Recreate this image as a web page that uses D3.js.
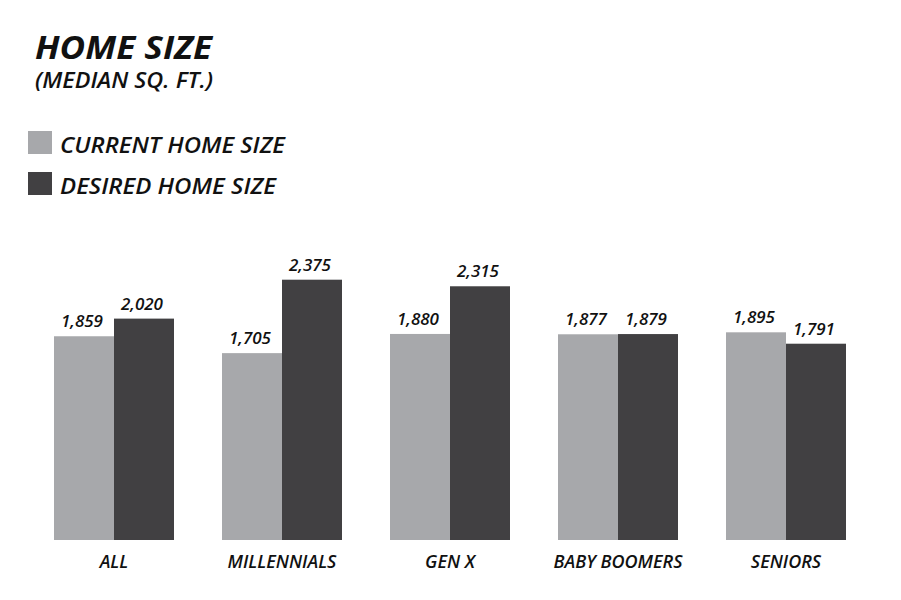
<!DOCTYPE html>
<html>
<head>
<meta charset="utf-8">
<script src="https://cdn.jsdelivr.net/npm/d3@7"></script>
<style>
  html, body { margin: 0; padding: 0; background: #fff; }
  svg text { font-family: "Open Sans", sans-serif; font-style: italic; fill: #111; }
</style>
</head>
<body>
<svg id="chart" width="901" height="600"></svg>
<script>
"use strict";

var categories = ["ALL", "MILLENNIALS", "GEN X", "BABY BOOMERS", "SENIORS"],
    seriesNames = ["CURRENT HOME SIZE", "DESIRED HOME SIZE"],
    currentSize = [1859, 1705, 1880, 1877, 1895],
    desiredSize = [2020, 2375, 2315, 1879, 1791],
    colors = ["#a7a8ab", "#414042"];

var svg = d3.select("#chart"),
    fmt = d3.format(",");

// title block
svg.append("text")
    .attr("x", 35).attr("y", 59)
    .style("font-size", "32px").style("font-weight", 700)
    .attr("textLength", 177).attr("lengthAdjust", "spacingAndGlyphs")
    .text("HOME SIZE");
svg.append("text")
    .attr("x", 35).attr("y", 88)
    .style("font-size", "21px").style("font-weight", 600)
    .attr("textLength", 178).attr("lengthAdjust", "spacingAndGlyphs")
    .text("(MEDIAN SQ. FT.)");

// legend
var legend = svg.selectAll(".legend").data(seriesNames).enter().append("g")
    .attr("class", "legend")
    .attr("transform", function (d, i) { return "translate(28," + (131 + i * 41) + ")"; });
legend.append("rect")
    .attr("width", 24).attr("height", 23)
    .style("fill", function (d, i) { return colors[i]; });
legend.append("text")
    .attr("x", 32).attr("y", 22)
    .style("font-size", "22px").style("font-weight", 600)
    .attr("textLength", function (d, i) { return i === 0 ? 225 : 216; })
    .attr("lengthAdjust", "spacingAndGlyphs")
    .text(function (d) { return d; });

// scales
var x0 = d3.scaleBand().domain(categories).range([30, 870])
        .paddingInner(48 / 168).paddingOuter(24 / 168),
    x1 = d3.scaleBand().domain([0, 1]).range([0, x0.bandwidth()]),
    y = d3.scaleLinear().domain([0, 2500]).range([540, 266]);

var rows = categories.map(function (c, i) {
    return { cat: c, values: [currentSize[i], desiredSize[i]] };
});

var groups = svg.selectAll(".group").data(rows).enter().append("g")
    .attr("class", "group")
    .attr("transform", function (d) { return "translate(" + x0(d.cat) + ",0)"; });

groups.selectAll("rect").data(function (d) { return d.values; }).enter().append("rect")
    .attr("x", function (d, i) { return x1(i); })
    .attr("y", function (d) { return y(d); })
    .attr("width", x1.bandwidth())
    .attr("height", function (d) { return y(0) - y(d); })
    .style("fill", function (d, i) { return colors[i]; });

groups.selectAll(".val").data(function (d) { return d.values; }).enter().append("text")
    .attr("class", "val")
    .attr("x", function (d, i) { return x1(i) + x1.bandwidth() / 2 - 2; })
    .attr("y", function (d) { return y(d) - 9; })
    .attr("text-anchor", "middle")
    .style("font-size", "17px").style("font-weight", 600)
    .text(function (d) { return fmt(d); });

// category axis labels
var xAxis = d3.axisBottom(x0).tickSize(0).tickPadding(0);
var ax = svg.append("g").attr("transform", "translate(0,540)").call(xAxis);
ax.select(".domain").remove();
ax.selectAll("text")
    .attr("y", 28).attr("dy", null)
    .style("font-family", "'Open Sans', sans-serif")
    .style("font-size", "18px").style("font-weight", 600).style("font-style", "italic")
    .style("fill", "#111");
</script>
</body>
</html>
